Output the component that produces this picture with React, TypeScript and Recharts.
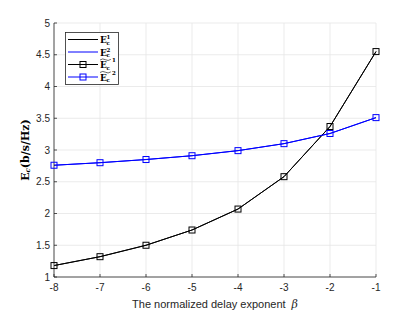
import { LineChart, Line, XAxis, YAxis, CartesianGrid, Label } from 'recharts'

const betas = [-8, -7, -6, -5, -4, -3, -2, -1]
const ec1 = [1.18, 1.32, 1.5, 1.74, 2.07, 2.58, 3.37, 4.55]
const ec2 = [2.76, 2.8, 2.85, 2.91, 2.99, 3.1, 3.26, 3.51]
const xTicks = [-8, -7, -6, -5, -4, -3, -2, -1]
const yTicks = [1, 1.5, 2, 2.5, 3, 3.5, 4, 4.5, 5]

const data = betas.map((b, i) => ({ beta: b, e1: ec1[i], e2: ec2[i] }))

const BLUE = '#0000ff'
const AXIS = '#262626'

// hollow square marker like matlab 's'
function SquareDot(color: string) {
  return (props: any) => {
    const { cx, cy, index } = props
    if (cx == null || cy == null) return <g key={index} />
    return (
      <rect key={index} x={cx - 3} y={cy - 3} width={6} height={6} fill="none" stroke={color} strokeWidth={1} />
    )
  }
}

function LegendLabel({ x, cy, sup, tilde }: { x: number; cy: number; sup: string; tilde?: boolean }) {
  const font = { fontFamily: 'DejaVu Serif', fontWeight: 'bold' as const, fill: '#000' }
  return (
    <g>
      <text x={x} y={cy + 3.5} fontSize={9} {...font}>E</text>
      <text x={x + 6.5} y={cy + 5} fontSize={5.5} {...font}>c</text>
      <text x={tilde ? x + 12 : x + 6.5} y={tilde ? cy - 2.5 : cy - 0.5} fontSize={5.5} {...font}>{sup}</text>
      {tilde && (
        <path
          d={`M${x} ${cy - 4.5} q2.7 -2 5.4 -0.3 t5.4 -0.3`}
          fill="none"
          stroke="#000"
          strokeWidth={0.6}
        />
      )}
    </g>
  )
}

function ChartLegend() {
  const rows = [
    { color: '#000', marker: false, sup: '1', tilde: false },
    { color: BLUE, marker: false, sup: '2', tilde: false },
    { color: '#000', marker: true, sup: '1', tilde: true },
    { color: BLUE, marker: true, sup: '2', tilde: true },
  ]
  return (
    <svg width={54} height={53} style={{ position: 'absolute', left: 65, top: 32 }}>
      <rect x={0.5} y={0.5} width={53} height={52} fill="#fff" stroke={AXIS} strokeWidth={0.8} />
      {rows.map((r, i) => {
        const cy = 7.5 + i * 12.5
        return (
          <g key={i}>
            <line x1={3} x2={33} y1={cy} y2={cy} stroke={r.color} strokeWidth={1} />
            {r.marker && <rect x={15} y={cy - 3} width={6} height={6} fill="none" stroke={r.color} />}
            <LegendLabel x={35} cy={cy} sup={r.sup} tilde={r.tilde} />
          </g>
        )
      })}
    </svg>
  )
}

function YLabel(props: any) {
  const vb = props.viewBox
  const x = 25
  const y = vb.y + vb.height / 2
  return (
    <text
      transform={`rotate(-90 ${x} ${y})`}
      x={x}
      y={y}
      textAnchor="middle"
      dominantBaseline="central"
      fontFamily="DejaVu Serif"
      fontSize={11}
      fontWeight="bold"
      fill="#000"
    >
      E<tspan fontSize={7} fontStyle="italic" dy={2}>c</tspan>
      <tspan dy={-2}>(b/s/Hz)</tspan>
    </text>
  )
}

function XLabel(props: any) {
  const vb = props.viewBox
  return (
    <text
      x={vb.x + vb.width / 2}
      y={304}
      textAnchor="middle"
      dominantBaseline="central"
      fontFamily="Liberation Sans"
      fontSize={11}
      fill={AXIS}
    >
      The normalized delay exponent
      <tspan dx={6} fontStyle="italic" fontFamily="DejaVu Serif">β</tspan>
    </text>
  )
}

const tickStyle = { fill: AXIS, fontSize: 10, fontFamily: 'Liberation Sans' }
const axisStyle = { stroke: AXIS, strokeWidth: 0.8 }

export default function App() {
  return (
    <div style={{ position: 'absolute', left: 0, top: 0, width: 415, height: 312, background: '#fff' }}>
      <LineChart
        width={415}
        height={312}
        data={data}
        margin={{ top: 23, right: 39, left: 0, bottom: 0 }}
      >
        <CartesianGrid stroke="#e6e6e6" strokeWidth={0.8} />
        <XAxis
          dataKey="beta"
          type="number"
          domain={[-8, -1]}
          ticks={xTicks}
          height={35}
          tick={tickStyle}
          tickLine={axisStyle}
          tickSize={-3}
          tickMargin={10}
          axisLine={axisStyle}
        >
          <Label content={XLabel} />
        </XAxis>
        <YAxis
          domain={[1, 5]}
          ticks={yTicks}
          width={54}
          tick={tickStyle}
          tickLine={axisStyle}
          tickSize={-3}
          tickMargin={7}
          axisLine={axisStyle}
        >
          <Label content={YLabel} />
        </YAxis>
        <XAxis xAxisId="top" orientation="top" dataKey="beta" type="number" domain={[-8, -1]} ticks={xTicks} height={0} tick={false} tickLine={axisStyle} tickSize={-3} axisLine={axisStyle} />
        <YAxis yAxisId="right" orientation="right" domain={[1, 5]} ticks={yTicks} width={0} tick={false} tickLine={axisStyle} tickSize={-3} axisLine={axisStyle} />
        <Line dataKey="e1" stroke="#000" strokeWidth={1} dot={false} isAnimationActive={false} />
        <Line dataKey="e2" stroke={BLUE} strokeWidth={1} dot={false} isAnimationActive={false} />
        <Line dataKey="e1" stroke="#000" strokeWidth={1} dot={SquareDot('#000')} isAnimationActive={false} />
        <Line dataKey="e2" stroke={BLUE} strokeWidth={1} dot={SquareDot(BLUE)} isAnimationActive={false} />
      </LineChart>
      <ChartLegend />
    </div>
  )
}
